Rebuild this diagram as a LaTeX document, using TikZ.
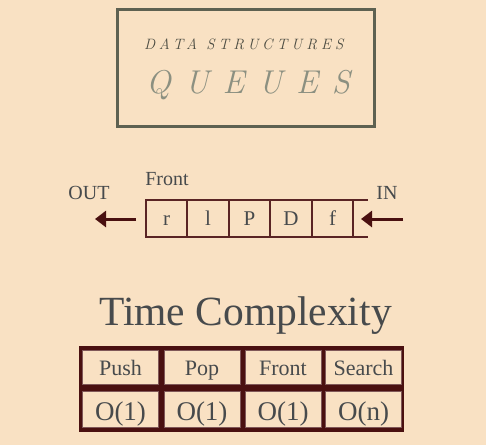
\documentclass[tikz,border=0pt]{standalone}
\usepackage{fontspec}
\usetikzlibrary{arrows.meta}
\newfontfamily\bodyfont{Liberation Serif}
\newfontfamily\dsfont[LetterSpace=27]{Latin Modern Roman}
\newfontfamily\qfont[LetterSpace=42]{Latin Modern Roman}
\definecolor{bg}{HTML}{F9E1C3}
\definecolor{boxline}{HTML}{5E6151}
\definecolor{dsgray}{HTML}{4C4C42}
\definecolor{qgray}{HTML}{8C9081}
\definecolor{txt}{HTML}{474A4C}
\definecolor{maroon}{HTML}{5A2424}
\definecolor{darkm}{HTML}{4A1010}
\tikzset{
  qcell/.style={draw=maroon, line width=1.7pt, outer sep=0pt, minimum width=41.5pt, minimum height=36.5pt, inner sep=0pt, font=\bodyfont\fontsize{21}{21}\selectfont, text=txt, text height=15pt, text depth=2pt},
  qline/.style={draw=maroon, line width=1.7pt},
  arr/.style={draw=darkm, line width=3pt, -{Triangle[length=11pt,width=16pt]}},
  lbl/.style={inner sep=0pt, font=\bodyfont\fontsize{20}{20}\selectfont, text=txt},
  tcell/.style={fill=bg, draw=darkm!70, line width=0.5pt, inner sep=0pt, text=txt},
  thead/.style={tcell, minimum width=76pt, minimum height=34pt, font=\bodyfont\fontsize{22}{22}\selectfont, text height=17pt, text depth=1pt},
  tval/.style={tcell, minimum width=76pt, minimum height=36pt, font=\bodyfont\fontsize{27}{27}\selectfont, text height=22pt, text depth=1pt},
}
\begin{document}
\begin{tikzpicture}[x=1pt,y=-1pt]
\fill[bg] (0,0) rectangle (486,445);
\useasboundingbox (0,0) rectangle (486,445);
% title box
\node[draw=boxline, line width=3pt, minimum width=257pt, minimum height=117pt, inner sep=0pt] (title) at (246,68) {};
\node[anchor=base west, inner sep=0pt, text=dsgray, font=\dsfont\itshape\fontsize{15}{15}\selectfont] (ds) at (144,49) {DATA STRUCTURES};
\node[anchor=base west, inner sep=0pt, text=qgray, font=\qfont\itshape\fontsize{33}{33}\selectfont] (qu) at (146,93) {QUEUES};
% queue
\node[qcell] (c1) at (166.5,218.5) {r};
\node[qcell] (c2) at (208,218.5) {l};
\node[qcell] (c3) at (249.5,218.5) {P};
\node[qcell] (c4) at (291,218.5) {D};
\node[qcell] (c5) at (332.5,218.5) {f};
\coordinate (et) at (368,200.25);
\coordinate (eb) at (368,236.75);
\draw[qline] (c5.north east) -- (et);
\draw[qline] (c5.south east) -- (eb);
\node[lbl, anchor=base] (front) at (167,185) {Front};
\node[lbl, anchor=base] (out) at (89,199) {OUT};
\node[lbl, anchor=base] (in) at (387,199) {IN};
\coordinate (o1) at (136,219);
\coordinate (o2) at (95,219);
\coordinate (i1) at (403,219);
\coordinate (i2) at (361,219);
\draw[arr] (o1) -- (o2);
\draw[arr] (i1) -- (i2);
% time complexity
\node[inner sep=0pt, anchor=base, text=txt, font=\bodyfont\fontsize{41.5}{41.5}\selectfont] (tc) at (245.5,325) {Time Complexity};
\node[fill=darkm, minimum width=325pt, minimum height=86pt, inner sep=0pt] (tbl) at (241.5,389) {};
\node[thead] (h1) at (120.5,367) {Push};
\node[thead] (h2) at (202,367) {Pop};
\node[thead] (h3) at (283,367) {Front};
\node[thead] (h4) at (363.5,367) {Search};
\node[tval] (v1) at (120.5,409.5) {O(1)};
\node[tval] (v2) at (202,409.5) {O(1)};
\node[tval] (v3) at (283,409.5) {O(1)};
\node[tval] (v4) at (363.5,409.5) {O(n)};
\end{tikzpicture}
\end{document}
